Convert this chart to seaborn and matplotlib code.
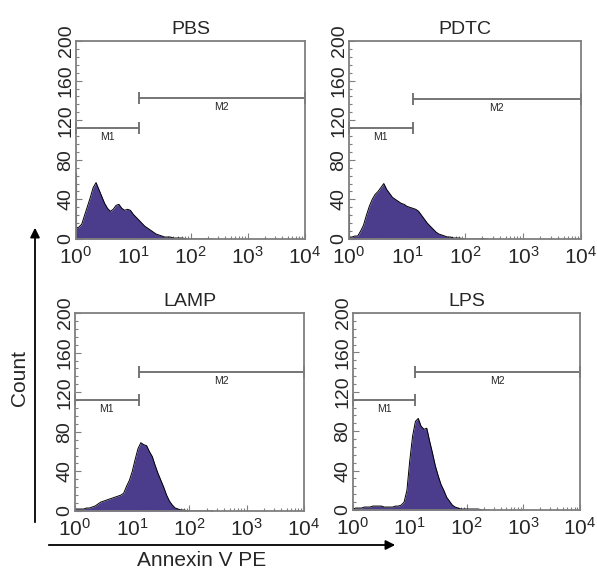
import numpy as np
import matplotlib
matplotlib.use("Agg")
import matplotlib.pyplot as plt
import seaborn as sns
from matplotlib.ticker import AutoMinorLocator, LogLocator, LogFormatterMathtext
from matplotlib.patches import FancyArrowPatch

# panel names
titles = ["PBS", "PDTC", "LAMP", "LPS"]

# histogram bin centres (log10 of fluorescence channel)
log_channel = np.linspace(0, 2.4, 49)

# counts per bin
pbs = [11, 12, 15, 24, 33, 42, 52, 57, 50, 43, 36, 31, 28, 30, 34, 35, 31, 29, 30, 29,
       25, 22, 19, 16, 13, 11, 9, 7, 5, 4, 3, 2, 2, 2, 1, 1, 1, 1, 0.5, 0,
       0, 0, 0, 0, 0, 0, 0, 0, 0]
pdtc = [2, 2, 3, 3, 8, 14, 24, 33, 40, 45, 48, 52, 56, 50, 46, 42, 40, 38, 36, 35,
        33, 32, 31, 30, 28, 24, 20, 16, 13, 10, 7, 5, 4, 3, 2, 2, 1, 1, 1, 0.5,
        0, 0, 0, 0, 0, 0, 0.5, 0, 0]
lamp = [2, 2, 2, 2, 3, 3, 4, 5, 7, 9, 10, 11, 12, 13, 14, 15, 16, 18, 25, 31,
        40, 52, 63, 69, 67, 66, 60, 55, 46, 38, 31, 24, 16, 10, 6, 3, 2, 1, 1, 0.5,
        0, 0, 0, 0, 0, 0, 0, 0, 0.5]
lps = [1, 2, 2, 2, 3, 3, 3, 4, 4, 4, 4, 3, 3, 3, 3, 4, 4, 5, 8, 20,
       50, 75, 90, 93, 85, 82, 83, 70, 58, 45, 35, 26, 20, 13, 9, 5, 3, 2, 1, 1,
       1, 1, 1, 1, 1, 0.5, 0, 0, 0]
counts = [pbs, pdtc, lamp, lps]

# events piled up in the first channel
edge_counts = [67, 25, 0, 0]

# marker gates
m1_level = [112, 112, 112, 112]
m2_level = [142, 141, 140, 140]
gate_split = [12.4, 12.6, 12.9, 12.6]
channel_max = 1e4
decades = [1, 10, 100, 1000, 10000]

sns.set_theme(style="ticks")
plt.rcParams["font.family"] = ["Liberation Sans", "DejaVu Sans"]
plt.rcParams["mathtext.default"] = "regular"

fill_col = "#4b3d8c"
frame_col = "#7f7f7f"

fig = plt.figure(figsize=(5.97, 5.70), dpi=100)
W, H = 597, 570
boxes = [(76, 41, 305, 239), (349, 41, 581, 239),
         (75, 313, 304, 511), (353, 313, 580, 510)]

for i, (l, t, r, b) in enumerate(boxes):
    ax = fig.add_axes([l / W, 1 - b / H, (r - l) / W, (b - t) / H])
    x = 10 ** log_channel
    ax.fill_between(x, counts[i], color=fill_col, lw=0)
    sns.lineplot(x=x, y=counts[i], color="black", lw=0.7, ax=ax)
    if edge_counts[i] > 0:
        ax.vlines(1, 0, edge_counts[i], color="#333333", lw=1.5)

    ax.set_xscale("log")
    ax.set_xlim(1, channel_max)
    ax.set_ylim(0, 200)
    ax.set_xticks(decades)
    ax.xaxis.set_minor_locator(LogLocator(base=10, subs=np.arange(2, 10), numticks=20))
    ax.xaxis.set_major_formatter(LogFormatterMathtext())
    ax.set_yticks(range(0, 201, 40))
    ax.yaxis.set_minor_locator(AutoMinorLocator(5))
    ax.set_xlabel("")
    ax.set_ylabel("")
    ax.set_title(titles[i], fontsize=14, pad=5)

    for s in ax.spines.values():
        s.set_visible(True)
        s.set_color(frame_col)
        s.set_linewidth(1.3)
    ax.tick_params(which="both", direction="in", color=frame_col, width=0.8)
    ax.tick_params(which="major", length=4)
    ax.tick_params(which="minor", length=2)
    ax.tick_params(axis="x", labelsize=15, pad=5)
    ax.tick_params(axis="y", labelsize=14, pad=1, labelrotation=90)
    for lbl in ax.get_yticklabels():
        lbl.set_va("center")

    # gates
    s = gate_split[i]
    y1, y2 = m1_level[i], m2_level[i]
    gk = dict(color="#6a6a6a", lw=1.3, clip_on=False)
    ax.hlines(y1, 1, s, **gk)
    ax.vlines([1, s], y1 - 6, y1 + 6, **gk)
    ax.text(np.sqrt(s), y1 - 9, "M1", fontsize=7.5, ha="center", va="center")
    ax.hlines(y2, s, channel_max, **gk)
    ax.vlines([s, channel_max], y2 - 6, y2 + 6, **gk)
    ax.text(np.sqrt(s * channel_max), y2 - 9, "M2", fontsize=7.5, ha="center", va="center")

# axis arrows and labels
up = FancyArrowPatch((35 / W, 1 - 525 / H), (35 / W, 1 - 225 / H), transform=fig.transFigure,
                     arrowstyle="-|>", mutation_scale=14, color="black", lw=1.3)
right = FancyArrowPatch((46 / W, 1 - 545 / H), (398 / W, 1 - 545 / H), transform=fig.transFigure,
                        arrowstyle="-|>", mutation_scale=14, color="black", lw=1.3)
fig.add_artist(up)
fig.add_artist(right)
fig.text(20 / W, 1 - 378 / H, "Count", rotation=90, fontsize=15, ha="center", va="center")
fig.text(202 / W, 1 - 561 / H, "Annexin V PE", fontsize=15, ha="center", va="center")

fig.savefig("out.png", dpi=100)
